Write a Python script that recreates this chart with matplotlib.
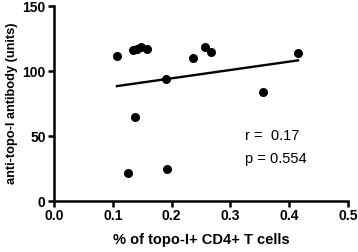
import numpy as np
import matplotlib
matplotlib.use("Agg")
import matplotlib.pyplot as plt

plt.rcParams['font.family'] = ['Liberation Sans', 'DejaVu Sans']

x_vals = [0.107, 0.134, 0.141, 0.148, 0.158, 0.190, 0.138, 0.236, 0.257, 0.267, 0.415, 0.356, 0.126, 0.192]
y_vals = [111.5, 116, 117, 118.5, 117, 94, 65, 110, 118.5, 114.6, 113.8, 84, 21.5, 24.6]
x_ticks = [0.0, 0.1, 0.2, 0.3, 0.4, 0.5]
y_ticks = [0, 50, 100, 150]
r_text = "r =  0.17"
p_text = "p = 0.554"

fig = plt.figure(figsize=(3.58, 2.52), dpi=100)
ax = fig.add_axes([0.151, 0.202, 0.821, 0.774])
ax.scatter(x_vals, y_vals, s=30, color='black', zorder=3)
slope, intercept = np.polyfit(x_vals, y_vals, 1)
xs = np.array([min(x_vals), max(x_vals)])
ax.plot(xs, slope * xs + intercept, color='black', lw=1.7)

ax.set_xlim(0, 0.5)
ax.set_ylim(0, 150)
ax.set_xticks(x_ticks)
ax.set_yticks(y_ticks)
ax.set_xticklabels([f"{t:.1f}" for t in x_ticks], fontweight='bold', fontsize=10)
ax.set_yticklabels([str(t) for t in y_ticks], fontweight='bold', fontsize=10)
for s in ['top', 'right']:
    ax.spines[s].set_visible(False)
for s in ['left', 'bottom']:
    ax.spines[s].set_linewidth(1.8)
ax.tick_params(width=1.8, length=4, pad=2)
ax.set_xlabel("% of topo-I+ CD4+ T cells", fontweight='bold', fontsize=10.5, labelpad=7)
ax.set_ylabel("anti-topo-I antibody (units)", fontweight='bold', fontsize=9.2, labelpad=3)
ax.text(0.325, 47, r_text, fontsize=10.5)
ax.text(0.325, 29, p_text, fontsize=10.5)

fig.savefig("out.png", dpi=100)
